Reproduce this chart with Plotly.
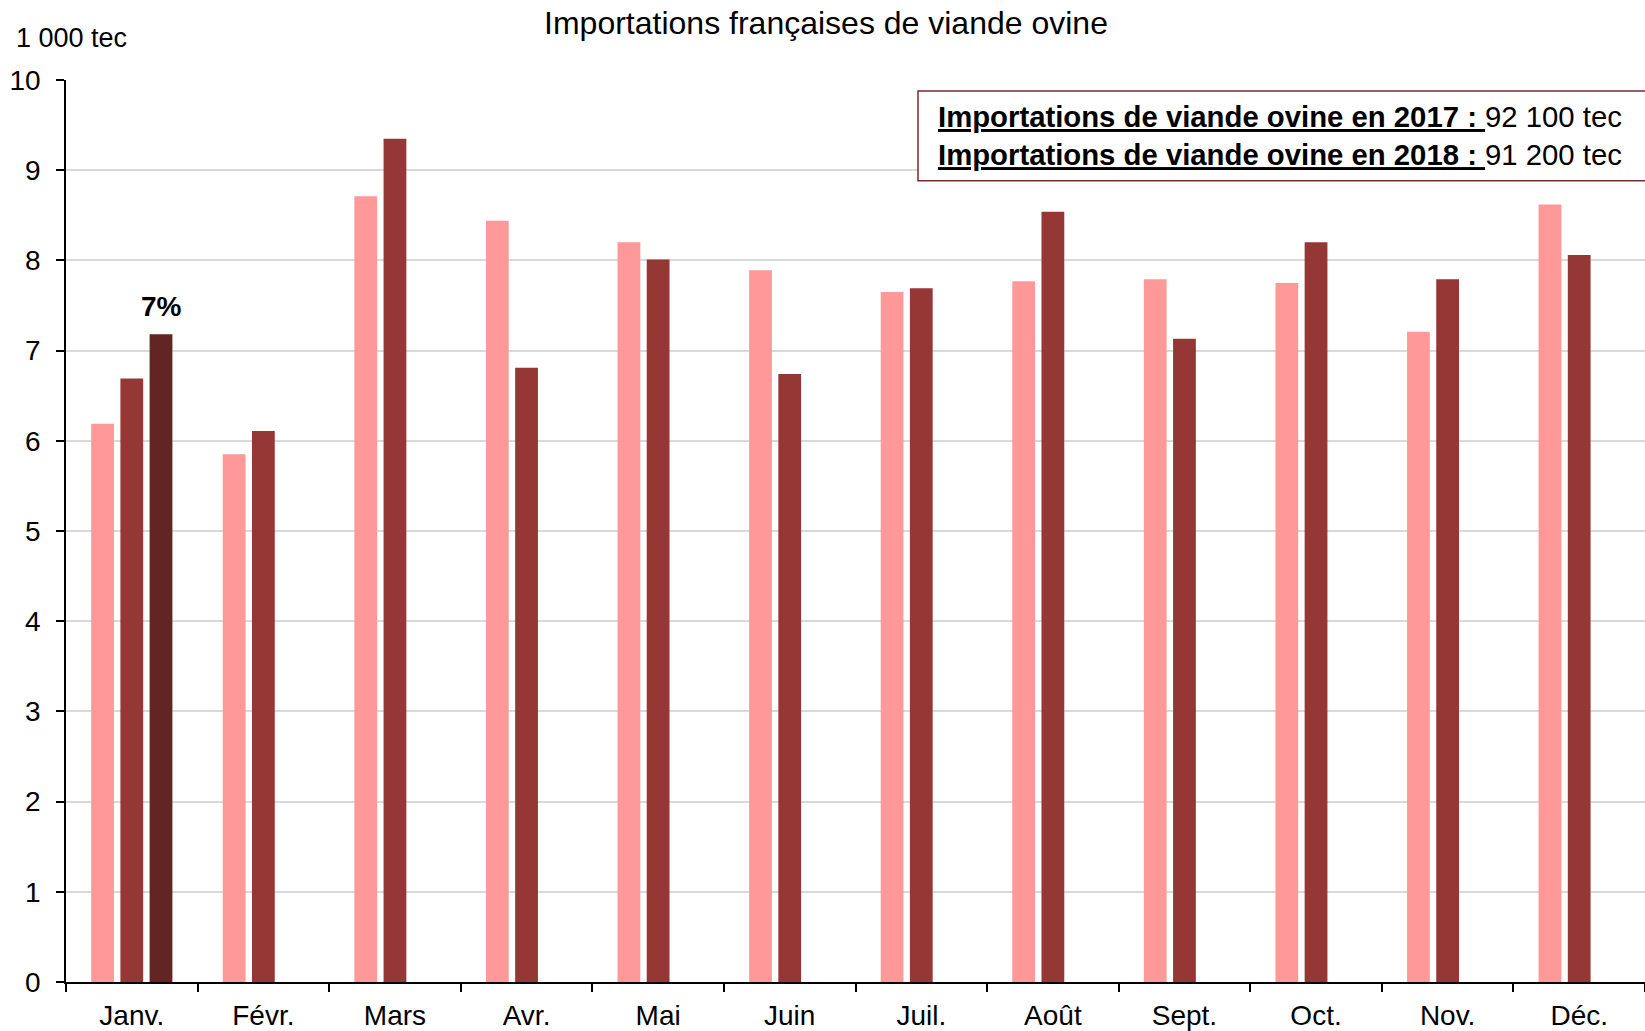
import plotly.graph_objects as go

# Données (1 000 tec)
mois = ["Janv.", "Févr.", "Mars", "Avr.", "Mai", "Juin", "Juil.", "Août", "Sept.", "Oct.", "Nov.", "Déc."]
imports_2017 = [6.19, 5.85, 8.71, 8.44, 8.20, 7.89, 7.65, 7.77, 7.79, 7.75, 7.21, 8.62]
imports_2018 = [6.69, 6.11, 9.35, 6.81, 8.01, 6.74, 7.69, 8.54, 7.13, 8.20, 7.79, 8.06]
imports_2019 = [7.18, None, None, None, None, None, None, None, None, None, None, None]
total_2017 = "92 100 tec"
total_2018 = "91 200 tec"
evol_janv = "7%"

police = "Liberation Sans, Arial, sans-serif"

W, H = 1645, 1031

fig = go.Figure()
fig.add_trace(go.Bar(x=mois, y=imports_2017, name="2017", marker_color="#FF9999"))
fig.add_trace(go.Bar(x=mois, y=imports_2018, name="2018", marker_color="#953735"))
fig.add_trace(go.Bar(x=mois, y=imports_2019, name="2019", marker_color="#632523"))

fig.update_traces(marker_line_width=0, hoverinfo="skip")

fig.update_layout(
    width=W,
    height=H,
    margin=dict(l=66, r=0, t=80, b=47),
    plot_bgcolor="white",
    paper_bgcolor="white",
    barmode="group",
    bargap=0.334,
    bargroupgap=0.22,
    showlegend=False,
    font=dict(family=police, color="black", size=28),
    title=dict(
        text="Importations françaises de viande ovine",
        x=826 / W, xref="container", xanchor="center",
        y=1 - 23 / H, yref="container", yanchor="middle",
        font=dict(size=32, family=police, color="black"),
    ),
)

fig.update_xaxes(
    tickson="boundaries",
    ticks="outside",
    ticklen=8,
    tickwidth=1.5,
    tickcolor="black",
    showline=True,
    linecolor="black",
    linewidth=2,
    showgrid=False,
    tickfont=dict(size=28),
    ticklabelstandoff=7,
)
fig.update_yaxes(
    range=[0, 10],
    dtick=1,
    ticks="outside",
    ticklen=8,
    tickwidth=1.5,
    tickcolor="black",
    showline=True,
    linecolor="black",
    linewidth=1.5,
    gridcolor="#D9D9D9",
    gridwidth=1.5,
    zeroline=False,
    tickfont=dict(size=28),
    ticklabelstandoff=10,
)

# unité
fig.add_annotation(
    text="1 000 tec", xref="paper", yref="paper",
    x=(14 - 66) / 1579, y=(984 - 37.5) / 904,
    xanchor="left", yanchor="middle", showarrow=False,
    font=dict(size=27),
)

# évolution janvier
fig.add_annotation(
    text="<b>" + evol_janv + "</b>", x="Janv.", y=imports_2019[0],
    xshift=29.5, yshift=10, yanchor="bottom", showarrow=False,
    font=dict(size=28),
)

# encadré des totaux
fig.add_shape(
    type="rect", xref="paper", yref="paper",
    x0=(918 - 66) / 1579, x1=1.02, y0=(984 - 181) / 904, y1=(984 - 91) / 904,
    fillcolor="white", line=dict(color="#772D2D", width=1.5), layer="above",
)
fig.add_annotation(
    text=("<b><u>Importations de viande ovine en 2017 : </u></b>" + total_2017
          + "<br><b><u>Importations de viande ovine en 2018 : </u></b>" + total_2018),
    xref="paper", yref="paper",
    x=(936 - 66) / 1579, y=(984 - 136) / 904,
    xanchor="left", yanchor="middle", align="left", showarrow=False,
    font=dict(size=29.3),
)

# pas de marge autour du graphique dans la page
fig.write_html(
    "out.html",
    config={"displayModeBar": False},
    post_script="document.body.style.margin='0';document.body.style.overflow='hidden';",
)
